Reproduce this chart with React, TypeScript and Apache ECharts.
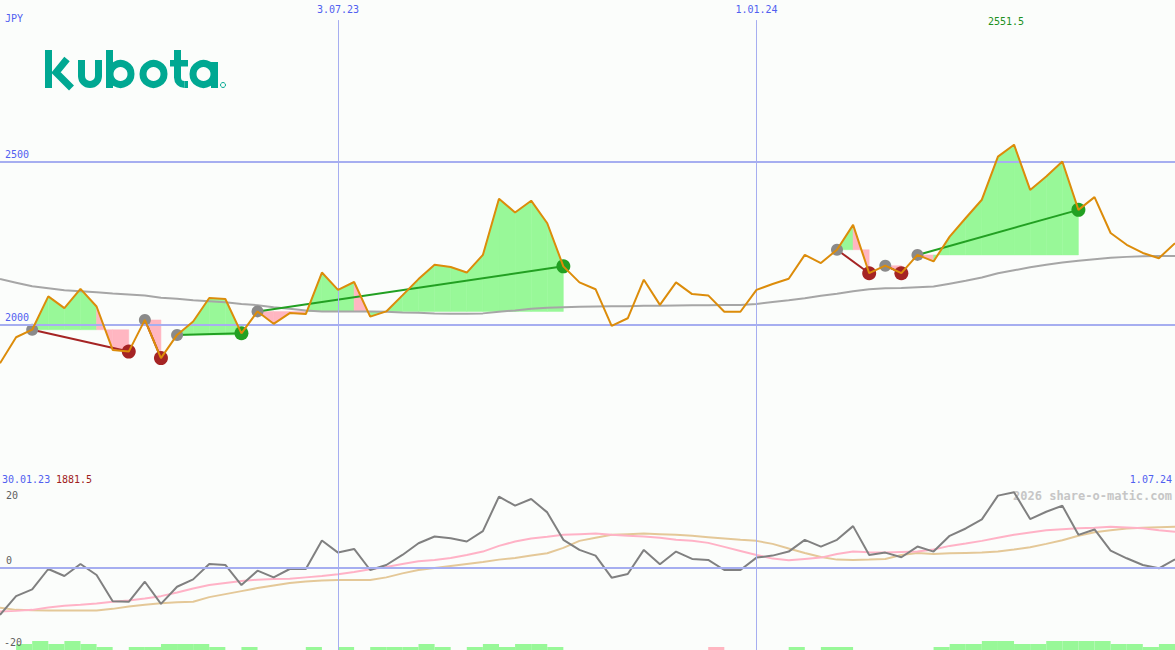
import React, { useEffect, useRef } from "react";
import * as echarts from "echarts";

// ---------- data ----------
const startLabel = "30.01.23";
const currency = "JPY";
const firstWeekUTC = Date.UTC(2023, 1, 6);
const weekCount = 74;
const dates: string[] = Array.from({ length: weekCount }, (_, k) => {
  const d = new Date(firstWeekUTC + k * 7 * 86400000);
  const mm = String(d.getUTCMonth() + 1).padStart(2, "0");
  const yy = String(d.getUTCFullYear() % 100).padStart(2, "0");
  return `${d.getUTCDate()}.${mm}.${yy}`;
});

const prices = [
  1882, 1962, 1985, 2087, 2051, 2110, 2056, 1923, 1918, 2015,
  1898, 1969, 2010, 2082, 2079, 1974, 2041, 2003, 2036, 2033,
  2160, 2107, 2131, 2025, 2041, 2090, 2140, 2184, 2177, 2160,
  2214, 2386, 2344, 2380, 2311, 2179, 2130, 2109, 1997, 2020,
  2138, 2061, 2130, 2094, 2090, 2040, 2040, 2107, 2125, 2141,
  2214, 2189, 2230, 2306, 2158, 2181, 2158, 2214, 2194, 2270,
  2327, 2383, 2515, 2551.5, 2413, 2454, 2500, 2352, 2391, 2281,
  2245, 2220, 2204, 2250,
];

const movingAvg = [
  2140, 2129, 2118, 2112, 2106, 2103, 2100, 2096, 2093, 2090,
  2083, 2080, 2075, 2072, 2069, 2064, 2060, 2054, 2049, 2044,
  2041, 2041, 2041, 2041, 2040, 2038, 2037, 2035, 2034, 2034,
  2035, 2040, 2044, 2049, 2052, 2054, 2055, 2056, 2057, 2057,
  2058, 2058, 2059, 2060, 2060, 2061, 2061, 2064, 2070, 2075,
  2081, 2089, 2095, 2103, 2109, 2112, 2113, 2115, 2117, 2126,
  2135, 2145, 2158, 2167, 2176, 2184, 2191, 2196, 2201, 2205,
  2208, 2210, 2211, 2211,
];

const oscillator = [
  -14.0, -8.4, -6.4, -0.3, -2.4, 1.2, -2.1, -9.9, -10.1, -4.1,
  -10.7, -5.6, -3.4, 1.2, 0.9, -5.1, -0.8, -2.8, -0.3, -0.3,
  8.2, 4.6, 5.7, -0.6, 0.9, 3.9, 7.4, 9.4, 8.9, 7.9,
  11.0, 21.3, 18.6, 20.6, 16.6, 8.4, 5.4, 3.7, -2.9, -1.8,
  5.4, 1.1, 4.9, 2.7, 2.4, -0.6, -0.6, 3.1, 3.7, 4.9,
  8.4, 6.4, 8.4, 12.5, 3.9, 4.6, 3.2, 6.4, 4.9, 9.6,
  11.8, 14.5, 21.6, 22.6, 14.6, 16.8, 18.6, 9.9, 11.5, 5.2,
  2.9, 0.9, -0.1, 2.6,
];

const signalPink = [
  -13.0, -12.8, -12.5, -11.8, -11.3, -11.0, -10.6, -10.1, -9.7, -9.1,
  -8.4, -7.3, -6.1, -5.1, -4.5, -3.9, -3.5, -3.3, -3.2, -2.8,
  -2.4, -1.9, -1.2, -0.4, 0.3, 1.2, 2.0, 2.4, 3.0, 3.9,
  4.9, 6.6, 7.9, 8.8, 9.3, 9.9, 10.1, 10.3, 9.9, 9.6,
  9.4, 9.0, 8.4, 8.1, 7.5, 6.3, 5.1, 3.9, 2.8, 2.3,
  2.7, 3.1, 4.2, 4.9, 4.7, 4.6, 4.8, 4.9, 5.5, 6.6,
  7.3, 8.1, 9.0, 9.9, 10.6, 11.3, 11.6, 11.9, 12.0, 12.3,
  12.1, 11.9, 11.3, 10.8,
];

const signalTan = [
  -11.9, -12.5, -12.6, -12.7, -12.7, -12.7, -12.7, -12.2, -11.5, -11.0,
  -10.5, -10.2, -10.1, -8.7, -7.8, -6.9, -6.0, -5.2, -4.5, -4.0,
  -3.7, -3.6, -3.6, -3.6, -2.8, -1.6, -0.6, 0.0, 0.6, 1.2,
  1.8, 2.5, 3.0, 3.7, 4.4, 6.0, 8.1, 9.0, 9.9, 10.1,
  10.3, 10.1, 9.9, 9.6, 9.2, 8.8, 8.4, 8.1, 7.2, 5.8,
  4.5, 3.3, 2.5, 2.4, 2.5, 2.7, 3.9, 4.5, 4.2, 4.4,
  4.5, 4.6, 4.9, 5.5, 6.2, 7.2, 8.3, 9.6, 10.7, 11.3,
  11.8, 12.0, 12.2, 12.3,
];

// weekly strength bars between consecutive weeks (negative = pink)
const strengthBars = [
  0, 2, 3, 2, 3, 2, 1, 0, 1, 1,
  2, 2, 2, 1, 0, 1, 0, 0, 0, 1,
  0, 1, 0, 1, 1, 1, 2, 1, 0, 1,
  2, 1, 2, 2, 1, 0, 0, 0, 0, 0,
  0, 0, 0, 0, -1, 0, 0, 0, 0, 1,
  0, 1, 1, 0, 0, 0, 0, 0, 1, 2,
  2, 3, 3, 2, 2, 3, 3, 3, 3, 2,
  2, 1, 2,
];

const tradeEntries = [2, 9, 11, 16, 52, 55, 57];
const tradeExits = [8, 10, 15, 35, 54, 56, 67];

const markedWeeks = [21, 47];
const priceLevels = [2500, 2000];
const oscLevels = [20, 0, -20];

// ---------- styles ----------
const MONO = '"DejaVu Sans Mono", "Liberation Mono", monospace';
const BLUE_TXT = "#5060f0";
const GRID_BLUE = "#a6aef0";
const SEP_BLUE = "#7584ec";
const FILL_GREEN = "#98f898";
const FILL_PINK = "#ffb6c1";
const WIN = "#22a022";
const LOSS = "#a52424";
const TEAL = "#00a892";

const Y0_MIN = 1503.4;
const Y0_MAX = 2994.5;

const stroke = { stroke: TEAL, lineWidth: 7, fill: null };

export default function App() {
  const ref = useRef<HTMLDivElement>(null);

  useEffect(() => {
    if (!ref.current) return;
    const chart = echarts.init(ref.current, null, { renderer: "svg" });

    const trades = tradeEntries.map((e, i) => {
      const x = tradeExits[i];
      return { entry: e, exit: x, win: prices[x] > prices[e] };
    });

    const fillSeries = {
      type: "custom",
      xAxisIndex: 0,
      yAxisIndex: 0,
      z: 1,
      silent: true,
      data: trades.map((t) => [t.entry, prices[t.entry], t.exit]),
      renderItem: (_params: any, api: any) => {
        const e = api.value(0);
        const ep = api.value(1);
        const x = api.value(2);
        const children: any[] = [];
        for (let k = e; k < x; k++) {
          const a = api.coord([k, ep]);
          const b = api.coord([k, prices[k]]);
          const c = api.coord([k + 1, prices[k + 1]]);
          const d = api.coord([k + 1, ep]);
          const col = prices[k + 1] >= ep ? FILL_GREEN : FILL_PINK;
          children.push({
            type: "polygon",
            shape: { points: [a, b, c, d] },
            style: { fill: col, stroke: col, lineWidth: 0.5 },
          });
        }
        return { type: "group", children };
      },
    };

    const tradeLines = trades.map((t) => ({
      type: "line",
      xAxisIndex: 0,
      yAxisIndex: 0,
      z: 3,
      silent: true,
      symbol: "none",
      connectNulls: true,
      data: prices.map((p, k) => (k === t.entry || k === t.exit ? p : null)),
      lineStyle: { color: t.win ? WIN : LOSS, width: 2 },
    }));

    const labelBase = { fontFamily: MONO, fontSize: 10 };

    const option: any = {
      animation: false,
      backgroundColor: "#fbfdfb",
      grid: [
        { left: 0, right: 0, top: 0, height: 487 },
        { left: 0, right: 0, top: 487, height: 163 },
        { left: 0, right: 0, top: 620, height: 30 },
      ],
      xAxis: [
        {
          gridIndex: 0,
          type: "category",
          data: dates,
          boundaryGap: false,
          position: "top",
          axisLine: { show: false },
          axisTick: { show: false },
          splitLine: { show: false },
          axisLabel: {
            inside: true,
            margin: 4,
            interval: (i: number) => markedWeeks.includes(i),
            color: BLUE_TXT,
            ...labelBase,
          },
        },
        {
          gridIndex: 1,
          type: "category",
          data: dates,
          boundaryGap: false,
          position: "top",
          axisLine: { show: true, lineStyle: { color: SEP_BLUE, width: 2 } },
          axisTick: { show: false },
          axisLabel: { show: false },
          splitLine: { show: false },
        },
        {
          gridIndex: 2,
          type: "category",
          data: dates.slice(0, weekCount - 1),
          boundaryGap: true,
          show: false,
        },
      ],
      yAxis: [
        { gridIndex: 0, type: "value", min: Y0_MIN, max: Y0_MAX, show: false },
        { gridIndex: 1, type: "value", min: -24.48, max: 24.18, show: false },
        { gridIndex: 2, type: "value", min: 0, max: 10, show: false },
      ],
      graphic: [
        // logo "Kubota"
        {
          type: "group",
          silent: true,
          children: [
            // K
            { type: "rect", shape: { x: 45, y: 50, width: 7, height: 38 }, style: { fill: TEAL } },
            {
              type: "polyline",
              shape: { points: [[67, 59], [56, 72.5], [71.5, 88]] },
              style: { ...stroke, lineJoin: "miter" },
            },
            // u
            { type: "rect", shape: { x: 78, y: 60, width: 7, height: 16.5 }, style: { fill: TEAL } },
            { type: "rect", shape: { x: 95, y: 60, width: 7, height: 16.5 }, style: { fill: TEAL } },
            {
              type: "arc",
              shape: { cx: 90, cy: 76, r: 8.5, startAngle: 0, endAngle: Math.PI, clockwise: true },
              style: stroke,
            },
            // b
            { type: "rect", shape: { x: 106, y: 50, width: 7, height: 38 }, style: { fill: TEAL } },
            { type: "circle", shape: { cx: 120.5, cy: 74, r: 10.5 }, style: stroke },
            // o
            { type: "circle", shape: { cx: 153.5, cy: 74, r: 10.5 }, style: stroke },
            // t
            { type: "rect", shape: { x: 174, y: 50, width: 7, height: 28 }, style: { fill: TEAL } },
            {
              type: "arc",
              shape: { cx: 184.5, cy: 77.5, r: 7, startAngle: Math.PI / 2, endAngle: Math.PI, clockwise: true },
              style: stroke,
            },
            { type: "rect", shape: { x: 184.5, y: 81, width: 3.5, height: 7 }, style: { fill: TEAL } },
            { type: "rect", shape: { x: 170, y: 60, width: 18, height: 6.5 }, style: { fill: TEAL } },
            // a
            { type: "circle", shape: { cx: 203.5, cy: 74, r: 10.5 }, style: stroke },
            { type: "rect", shape: { x: 211, y: 62, width: 7, height: 26 }, style: { fill: TEAL } },
            // registered mark
            { type: "circle", shape: { cx: 223, cy: 85, r: 2.5 }, style: { stroke: TEAL, lineWidth: 1, fill: null } },
          ],
        },
        {
          type: "text",
          x: 5,
          y: 13,
          style: { text: currency, fill: BLUE_TXT, font: `10px ${MONO}`, textVerticalAlign: "top" },
        },
        {
          type: "text",
          x: 1006,
          y: 16,
          style: {
            text: String(Math.max(...prices)),
            fill: "#209020",
            font: `10px ${MONO}`,
            textAlign: "center",
            textVerticalAlign: "top",
          },
        },
        {
          type: "text",
          x: 2,
          y: 474,
          style: { text: startLabel, fill: BLUE_TXT, font: `10px ${MONO}`, textVerticalAlign: "top" },
        },
        {
          type: "text",
          x: 56,
          y: 474,
          style: {
            text: String(Math.min(...prices) - 0.5),
            fill: "#a02020",
            font: `10px ${MONO}`,
            textVerticalAlign: "top",
          },
        },
        {
          type: "text",
          x: 1172,
          y: 474,
          style: {
            text: dates[weekCount - 1],
            fill: BLUE_TXT,
            font: `10px ${MONO}`,
            textAlign: "right",
            textVerticalAlign: "top",
          },
        },
        {
          type: "text",
          x: 1172,
          y: 490,
          style: {
            text: "2026 share-o-matic.com",
            fill: "#c6c6c6",
            font: `bold 12px ${MONO}`,
            textAlign: "right",
            textVerticalAlign: "top",
          },
        },
      ],
      series: [
        // main pane reference lines
        {
          type: "line",
          xAxisIndex: 0,
          yAxisIndex: 0,
          data: [],
          z: 0,
          silent: true,
          markLine: {
            silent: true,
            symbol: ["none", "none"],
            lineStyle: { type: "solid" },
            data: [
              ...priceLevels.map((v) => ({
                yAxis: v,
                lineStyle: { color: GRID_BLUE, width: 2, type: "solid" },
                label: {
                  show: true,
                  position: "insideStartTop",
                  formatter: String(v),
                  color: BLUE_TXT,
                  distance: [5, 2],
                  ...labelBase,
                },
              })),
              ...markedWeeks.map((w) => [
                {
                  coord: [dates[w], 2933],
                  lineStyle: { color: GRID_BLUE, width: 1, type: "solid" },
                  label: { show: false },
                },
                { coord: [dates[w], Y0_MIN] },
              ]),
            ],
          },
        },
        fillSeries,
        {
          type: "line",
          xAxisIndex: 0,
          yAxisIndex: 0,
          z: 2,
          silent: true,
          symbol: "none",
          data: movingAvg,
          lineStyle: { color: "#a6a6a6", width: 2 },
        },
        ...tradeLines,
        {
          type: "scatter",
          xAxisIndex: 0,
          yAxisIndex: 0,
          z: 4,
          silent: true,
          symbolSize: 12,
          data: trades.map((t) => [t.entry, prices[t.entry]]),
          itemStyle: { color: "#8a8a8a", opacity: 1 },
        },
        {
          type: "scatter",
          xAxisIndex: 0,
          yAxisIndex: 0,
          z: 4,
          silent: true,
          symbolSize: 14,
          data: trades.map((t) => ({
            value: [t.exit, prices[t.exit]],
            itemStyle: { color: t.win ? WIN : LOSS, opacity: 1 },
          })),
        },
        {
          type: "line",
          xAxisIndex: 0,
          yAxisIndex: 0,
          z: 5,
          silent: true,
          symbol: "none",
          data: prices,
          lineStyle: { color: "#dc8c0a", width: 2 },
        },
        // lower pane reference lines
        {
          type: "line",
          xAxisIndex: 1,
          yAxisIndex: 1,
          data: [],
          z: 0,
          silent: true,
          markLine: {
            silent: true,
            symbol: ["none", "none"],
            lineStyle: { type: "solid" },
            data: [
              ...oscLevels.map((v) => ({
                yAxis: v,
                lineStyle: {
                  color: v === 0 ? GRID_BLUE : "rgba(0,0,0,0)",
                  width: 2,
                  type: "solid",
                },
                label: {
                  show: true,
                  position: v < 0 ? "insideStartBottom" : "insideStartTop",
                  formatter: String(v),
                  color: "#606060",
                  distance: v < 0 ? [4, 3] : [6, v === 0 ? 2 : 1],
                  ...labelBase,
                },
              })),
              ...markedWeeks.map((w) => ({
                xAxis: dates[w],
                lineStyle: { color: GRID_BLUE, width: 1, type: "solid" },
                label: { show: false },
              })),
            ],
          },
        },
        {
          type: "line",
          xAxisIndex: 1,
          yAxisIndex: 1,
          z: 2,
          silent: true,
          symbol: "none",
          data: signalTan,
          lineStyle: { color: "#e4c898", width: 2 },
        },
        {
          type: "line",
          xAxisIndex: 1,
          yAxisIndex: 1,
          z: 2,
          silent: true,
          symbol: "none",
          data: signalPink,
          lineStyle: { color: "#ffb2c6", width: 2 },
        },
        {
          type: "line",
          xAxisIndex: 1,
          yAxisIndex: 1,
          z: 3,
          silent: true,
          symbol: "none",
          data: oscillator,
          lineStyle: { color: "#808080", width: 2 },
        },
        {
          type: "bar",
          xAxisIndex: 2,
          yAxisIndex: 2,
          z: 1,
          silent: true,
          barCategoryGap: "0%",
          data: strengthBars.map((v) => ({
            value: Math.abs(v),
            itemStyle: { color: v < 0 ? FILL_PINK : FILL_GREEN },
          })),
        },
      ],
    };

    chart.setOption(option);
    return () => chart.dispose();
  }, []);

  return (
    <div
      ref={ref}
      style={{ position: "absolute", left: 0, top: 0, width: 1175, height: 650 }}
    />
  );
}
